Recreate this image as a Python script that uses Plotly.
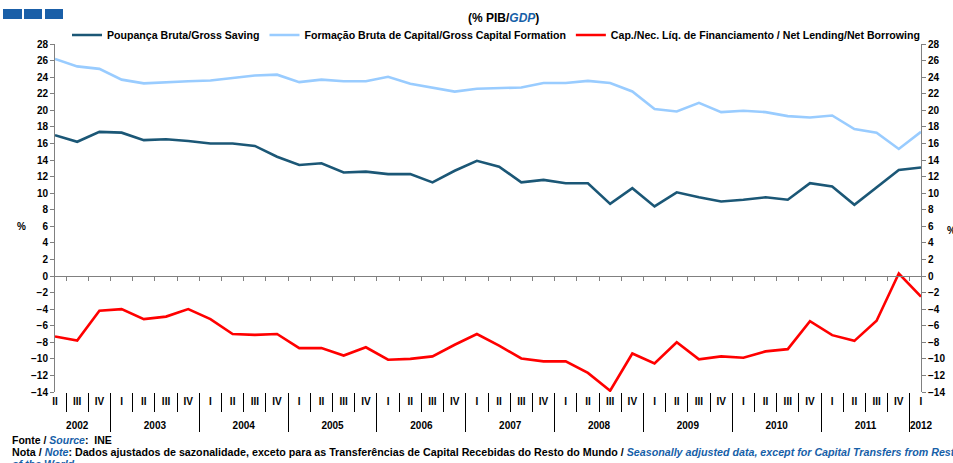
import plotly.graph_objects as go

# ---------------- data ----------------
quarters = ["II", "III", "IV"] + ["I", "II", "III", "IV"] * 9 + ["I"]
years = ["2002"] * 3 + [str(y) for y in range(2003, 2012) for _ in range(4)] + ["2012"]

gross_saving = [17.0, 16.2, 17.4, 17.3, 16.4, 16.5, 16.3, 16.0, 16.0, 15.7,
                14.4, 13.4, 13.6, 12.5, 12.6, 12.3, 12.3, 11.3, 12.7, 13.9,
                13.2, 11.3, 11.6, 11.2, 11.2, 8.7, 10.6, 8.4, 10.1, 9.5,
                9.0, 9.2, 9.5, 9.2, 11.2, 10.8, 8.6, 10.7, 12.8, 13.1]

gross_capital_formation = [26.2, 25.3, 25.0, 23.7, 23.25, 23.4, 23.5, 23.6, 23.9, 24.2,
                           24.3, 23.4, 23.7, 23.5, 23.5, 24.05, 23.2, 22.7, 22.25, 22.6,
                           22.65, 22.75, 23.3, 23.3, 23.55, 23.3, 22.27, 20.15, 19.86, 20.9,
                           19.78, 19.94, 19.78, 19.3, 19.13, 19.37, 17.73, 17.3, 15.33, 17.4]

net_lending = [-7.3, -7.8, -4.2, -4.0, -5.2, -4.9, -4.0, -5.2, -7.0, -7.1,
               -7.0, -8.7, -8.7, -9.6, -8.6, -10.1, -10.0, -9.7, -8.3, -7.0,
               -8.4, -9.95, -10.3, -10.3, -11.7, -13.85, -9.35, -10.55, -8.0, -10.05,
               -9.7, -9.87, -9.1, -8.83, -5.46, -7.14, -7.83, -5.4, 0.3, -2.5]

names = ["Poupança Bruta/Gross Saving",
         "Formação Bruta de Capital/Gross Capital Formation",
         "Cap./Nec. Líq. de Financiamento / Net Lending/Net Borrowing"]
colors = ["#1b5776", "#99ccff", "#ff0000"]

y_ticks = list(range(-14, 29, 2))

# ---------------- geometry helpers ----------------
W, H = 953, 463
L, R, T, B = 55, 32, 44, 71
PW, PH = W - L - R, H - T - B


def px(x):
    return (x - L) / PW


def py(y):
    return (H - B - y) / PH


FONT = "Liberation Sans, Arial, sans-serif"
BLUE_TXT = "#1660a8"
GRAY = "#808080"


def blue(s):
    return f"<i><span style='color:{BLUE_TXT}'>{s}</span></i>"


# inner labels: the partial first year gets an invisible marker so that plotly's
# multicategory ordering keeps I, II, III, IV inside each full year;
# a trailing empty line leaves room between quarter and year rows
inner_labels = [(q + "\u200b" if y == years[0] else q) + "<br> " for y, q in zip(years, quarters)]

fig = go.Figure()
x_multi = [years, inner_labels]
for vals, nm, col in zip([gross_saving, gross_capital_formation, net_lending], names, colors):
    fig.add_trace(go.Scatter(x=x_multi, y=vals, name=nm, mode="lines",
                             line=dict(color=col, width=2.6), xaxis="x", yaxis="y"))

# invisible helper trace for the tick-marked zero axis
flat_labels = [f"{y} {q}" for y, q in zip(years, quarters)]
fig.add_trace(go.Scatter(x=flat_labels, y=net_lending, mode="lines", line=dict(width=0),
                         opacity=0, showlegend=False, hoverinfo="skip", xaxis="x2", yaxis="y"))
# invisible helper trace for right axis
fig.add_trace(go.Scatter(x=x_multi, y=net_lending, mode="lines", line=dict(width=0),
                         opacity=0, showlegend=False, hoverinfo="skip", xaxis="x", yaxis="y2"))

tickfont = dict(family=FONT, size=10, color="black", weight="bold")
yrange = [-14, 28]

fig.update_layout(
    width=W, height=H,
    margin=dict(l=L, r=R, t=T, b=B, autoexpand=False),
    paper_bgcolor="white", plot_bgcolor="white",
    showlegend=True,
    legend=dict(orientation="h", x=px(67), xanchor="left", y=py(35), yanchor="middle",
                font=dict(family=FONT, size=10.6, color="black", weight="bold"),
                bgcolor="rgba(0,0,0,0)", tracegroupgap=0, itemwidth=30),
    xaxis=dict(type="multicategory",
               showgrid=False, zeroline=False,
               showline=False, ticks="outside", tickson="boundaries", ticklen=19,
               tickcolor="black", tickwidth=1, ticklabelstandoff=2,
               showdividers=True, dividercolor="black", dividerwidth=1,
               tickfont=dict(family=FONT, size=10, color="black", weight="bold")),
    xaxis2=dict(type="category", overlaying="x", anchor="free", position=14 / 42,
                showgrid=False, zeroline=False, showline=True, linecolor=GRAY, linewidth=1,
                ticks="outside", tickson="boundaries", ticklen=4, tickcolor=GRAY,
                showticklabels=False),
    yaxis=dict(range=yrange, tickvals=y_ticks, showgrid=False, zeroline=False,
               showline=True, linecolor=GRAY, linewidth=1,
               ticks="outside", ticklen=4, tickcolor=GRAY, tickfont=tickfont),
    yaxis2=dict(range=yrange, tickvals=y_ticks, overlaying="y", side="right", anchor="x",
                showgrid=False, zeroline=False, showline=True, linecolor=GRAY, linewidth=1,
                ticks="outside", ticklen=4, tickcolor=GRAY, tickfont=tickfont),
    yaxis3=dict(range=yrange, tickvals=y_ticks, overlaying="y", side="left", anchor="x",
                showgrid=False, zeroline=False, showline=False,
                ticks="inside", ticklen=4, tickcolor=GRAY, showticklabels=False),
    yaxis4=dict(range=yrange, tickvals=y_ticks, overlaying="y", side="right", anchor="x",
                showgrid=False, zeroline=False, showline=False,
                ticks="inside", ticklen=4, tickcolor=GRAY, showticklabels=False),
)

# logo blocks
for x0, x1 in [(3, 22), (24, 42), (45, 63)]:
    fig.add_shape(type="rect", xref="paper", yref="paper",
                  x0=px(x0), x1=px(x1), y0=py(19), y1=py(9),
                  fillcolor="#1a5fa8", line=dict(width=0), layer="above")

anns = [
    dict(x=px(503), y=py(18), text="(% PIB/" + blue("GDP") + ")", xanchor="center", size=12),
    dict(x=px(21), y=py(226), text="%", xanchor="center", size=10),
    dict(x=px(951), y=py(230), text="%", xanchor="center", size=10),
    dict(x=px(10), y=py(440), text="Fonte / " + blue("Source") + ":  INE", xanchor="left", size=10.5),
    dict(x=px(10), y=py(452),
         text=("Nota / " + blue("Note") + ": Dados ajustados de sazonalidade, exceto para as "
               "Transferências de Capital Recebidas do Resto do Mundo / "
               + blue("Seasonally adjusted data, except for Capital Transfers from Rest")),
         xanchor="left", size=10.7),
    dict(x=px(10), y=py(464), text=blue("of the World"), xanchor="left", size=10.7),
]
for a in anns:
    sz = a.pop("size")
    fig.add_annotation(xref="paper", yref="paper", showarrow=False, yanchor="middle",
                       font=dict(family=FONT, size=sz, color="black", weight="bold"), **a)

fig.write_html("out.html", config={"displayModeBar": False},
               post_script="document.body.style.margin='0';")
